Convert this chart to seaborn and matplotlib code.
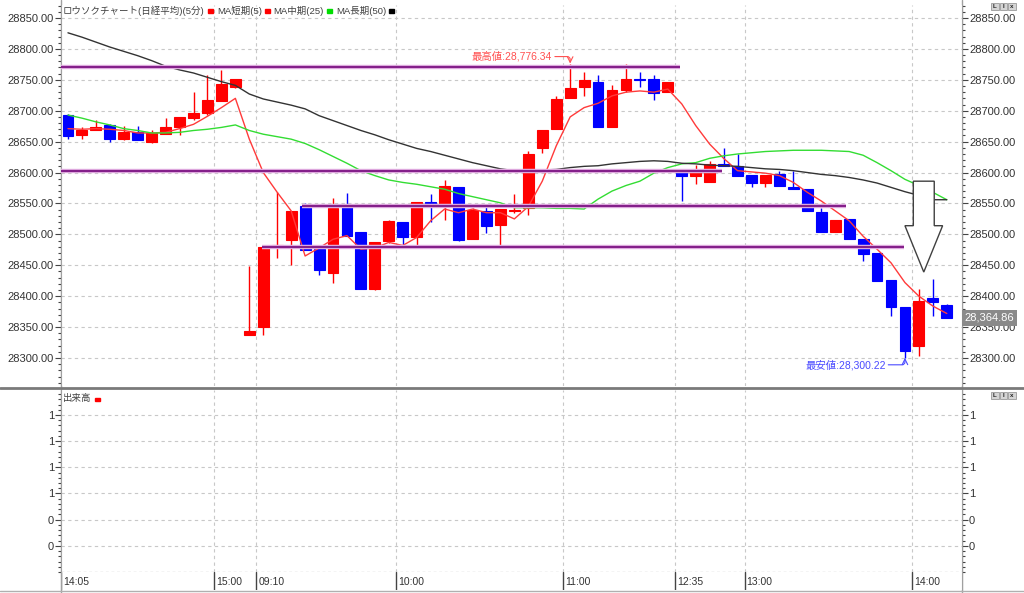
import numpy as np
import pandas as pd
import matplotlib
matplotlib.use("Agg")
import matplotlib.pyplot as plt
import matplotlib.ticker as mticker
from matplotlib.patches import Polygon, Rectangle
from matplotlib.lines import Line2D
import seaborn as sns

# ==========================
# DATA (5 min candles)
# ==========================

opens = [28693, 28660, 28669, 28677, 28654, 28666, 28649, 28663, 28674, 28689,
         28697, 28716, 28738, 28338, 28350, 28481, 28491, 28546, 28476, 28438,
         28546, 28503, 28411, 28489, 28520, 28496, 28553, 28548, 28577, 28492,
         28538, 28515, 28538, 28543, 28639, 28670, 28721, 28738, 28747, 28673,
         28734, 28751, 28752, 28731, 28603, 28594, 28585, 28614, 28611, 28596,
         28583, 28598, 28577, 28574, 28536, 28504, 28525, 28492, 28470, 28426,
         28383, 28319, 28397, 28385]
highs = [28695, 28673, 28685, 28678, 28676, 28675, 28668, 28689, 28690, 28730,
         28757, 28766, 28751, 28449, 28481, 28568, 28538, 28550, 28476, 28559,
         28567, 28503, 28487, 28524, 28520, 28553, 28565, 28588, 28577, 28543,
         28546, 28541, 28565, 28635, 28669, 28724, 28776.34, 28763, 28757, 28742,
         28775, 28763, 28757, 28747, 28603, 28612, 28619, 28640, 28630, 28596,
         28596, 28603, 28602, 28574, 28543, 28524, 28525, 28492, 28470, 28426,
         28383, 28411, 28427, 28387]
lows = [28654, 28655, 28668, 28649, 28653, 28652, 28648, 28662, 28661, 28685,
        28693, 28715, 28737, 28337, 28338, 28461, 28451, 28475, 28434, 28422,
        28498, 28412, 28410, 28486, 28482, 28482, 28520, 28523, 28489, 28492,
        28502, 28481, 28534, 28532, 28632, 28670, 28721, 28724, 28673, 28673,
        28730, 28739, 28718, 28731, 28554, 28581, 28585, 28610, 28595, 28576,
        28577, 28578, 28574, 28538, 28504, 28504, 28493, 28457, 28424, 28368,
        28300.22, 28303, 28368, 28365]
closes = [28659, 28668, 28674, 28654, 28665, 28653, 28664, 28674, 28690, 28697,
          28717, 28743, 28751, 28344, 28480, 28483, 28538, 28475, 28443, 28543,
          28498, 28412, 28487, 28521, 28496, 28553, 28548, 28578, 28491, 28539,
          28514, 28541, 28540, 28630, 28669, 28719, 28736, 28749, 28673, 28734,
          28752, 28750, 28729, 28747, 28595, 28603, 28614, 28610, 28595, 28583,
          28596, 28578, 28574, 28538, 28504, 28524, 28493, 28469, 28424, 28382,
          28312, 28393, 28391, 28364.86]

ma_short = [28671, 28670, 28671, 28670, 28668, 28664, 28664, 28665, 28671, 28678,
            28691, 28705, 28720, 28654, 28600, 28568, 28538, 28465, 28478, 28492,
            28498, 28476, 28478, 28487, 28482, 28495, 28522, 28541, 28535, 28541,
            28535, 28535, 28525, 28545, 28586, 28643, 28690, 28705, 28712, 28724,
            28730, 28732, 28730, 28735, 28711, 28676, 28646, 28623, 28603, 28601,
            28599, 28595, 28584, 28568, 28554, 28538, 28522, 28497, 28476, 28454,
            28422, 28400, 28384, 28372]
ma_mid = [28693, 28688, 28682, 28677, 28671, 28668, 28664, 28664, 28665, 28668,
          28670, 28673, 28677, 28668, 28662, 28658, 28654, 28647, 28637, 28626,
          28615, 28603, 28595, 28588, 28584, 28581, 28577, 28573, 28566, 28561,
          28556, 28551, 28543, 28543, 28543, 28542, 28542, 28541, 28557, 28570,
          28579, 28586, 28599, 28608, 28614, 28616, 28623, 28627, 28630, 28632,
          28634, 28635, 28636, 28636, 28636, 28635, 28634, 28628, 28616, 28603,
          28589, 28579, 28568, 28556]
ma_long = [28826, 28819, 28811, 28803, 28796, 28789, 28781, 28772, 28766, 28761,
           28754, 28747, 28741, 28727, 28719, 28714, 28709, 28703, 28692, 28684,
           28676, 28668, 28661, 28653, 28646, 28639, 28634, 28628, 28622, 28616,
           28611, 28606, 28603, 28603, 28604, 28605, 28608, 28610, 28611, 28614,
           28616, 28618, 28619, 28618, 28615, 28614, 28612, 28611, 28610, 28608,
           28606, 28605, 28603, 28600, 28597, 28595, 28592, 28588, 28583, 28576,
           28569, 28563, 28556, 28556]

time_labels = ["14:05", "15:00", "09:10", "10:00", "11:00", "12:35", "13:00", "14:00"]
time_label_idx = [0, 11, 14, 24, 36, 44, 49, 61]

# drawn horizontal lines: level, from candle, to candle
hline_levels = [28770, 28602, 28546, 28480]
hline_from = [-0.5, -0.5, 16.8, 13.9]
hline_to = [43.9, 46.9, 55.8, 59.9]

vol_ticks = [0.2, 0.4, 0.6, 0.8, 1.0, 1.2]
last_price = closes[-1]

UP = "#ff0000"
DOWN = "#0000ff"
GRID = "#c8c8c8"
TXT = "#333333"

# ==========================
# FIGURE / AXES
# ==========================

sns.set_style("white")
plt.rcParams['font.family'] = ['Liberation Sans', 'Noto Sans CJK JP', 'DejaVu Sans']

W, H = 1024, 593
fig = plt.figure(figsize=(W / 100, H / 100), dpi=100)


def box(x0, y0, x1, y1):
    return [x0 / W, 1 - y1 / H, (x1 - x0) / W, (y1 - y0) / H]


def fpx(x, y):
    return (x / W, 1 - y / H)


ax = fig.add_axes(box(61, 5, 962, 386))
axv = fig.add_axes(box(61, 390, 962, 572), sharex=ax)
axt = fig.add_axes(box(61, 572, 962, 590), sharex=ax)

n = len(closes)
ax.set_xlim(-0.5, 64.09)

# ==========================
# CANDLES
# ==========================

df = pd.DataFrame({"idx": np.arange(n), "open": opens, "high": highs,
                   "low": lows, "close": closes})
df["color"] = np.where(df["close"] >= df["open"], UP, DOWN)
df["bottom"] = df[["open", "close"]].min(axis=1)
df["body"] = (df["close"] - df["open"]).abs()

ax.vlines(df["idx"], df["low"], df["high"], colors=df["color"], lw=1, zorder=2)
ax.bar(df["idx"], df["body"], bottom=df["bottom"], width=0.78,
       color=df["color"], edgecolor=df["color"], linewidth=0.8, zorder=3)

# ==========================
# MOVING AVERAGES
# ==========================

ma = pd.DataFrame({"idx": np.arange(n), "MA短期(5)": ma_short,
                   "MA中期(25)": ma_mid, "MA長期(50)": ma_long})
ma = ma.melt("idx", var_name="series", value_name="price")
sns.lineplot(data=ma, x="idx", y="price", hue="series",
             palette={"MA短期(5)": "#ff3a3a", "MA中期(25)": "#33dd33", "MA長期(50)": "#333333"},
             linewidth=1, legend=False, estimator=None, sort=False, ax=ax, zorder=5)

# drawn horizontal lines
for lv, a, b in zip(hline_levels, hline_from, hline_to):
    ax.plot([a, b], [lv, lv], color="#e8b8e8", lw=3.2, zorder=5, solid_capstyle="butt")
    ax.plot([a, b], [lv, lv], color="#84208a", lw=1.6, zorder=6, solid_capstyle="butt")

# ==========================
# MAIN AXIS STYLE
# ==========================

ax.set_ylim(28254.7, 28871.0)
ax.yaxis.set_major_locator(mticker.MultipleLocator(50))
ax.yaxis.set_minor_locator(mticker.MultipleLocator(10))
ax.yaxis.set_major_formatter(mticker.FormatStrFormatter("%.2f"))
ax.yaxis.set_ticks_position("both")
ax.tick_params(axis="y", which="both", labelleft=True, labelright=True,
               direction="out", color="#444444", labelsize=8, labelcolor=TXT, pad=1)
ax.tick_params(axis="y", which="major", length=4, width=0.8)
ax.tick_params(axis="y", which="minor", length=2, width=0.8)
ax.tick_params(axis="x", which="both", bottom=False, labelbottom=False)
ax.set_xlabel("")
ax.set_ylabel("")
ax.grid(False)
for y in np.arange(28300, 28851, 50):
    ax.axhline(y, color=GRID, lw=0.8, ls=(0, (3, 3)), zorder=0)
for i in time_label_idx:
    ax.axvline(i - 0.5, color=GRID, lw=0.8, ls=(0, (3, 3)), zorder=0)
for s in ["top", "bottom"]:
    ax.spines[s].set_visible(False)
for s in ["left", "right"]:
    ax.spines[s].set_color("#a0a0a0")

# high / low annotations
ax.annotate("", xy=(36, highs[36]), xytext=(-11, 5), textcoords="offset points",
            arrowprops=dict(arrowstyle="->", color="#ff5050", lw=0.8,
                            connectionstyle="angle,angleA=0,angleB=90,rad=3",
                            shrinkA=0, shrinkB=0), zorder=7)
ax.annotate("最高値:28,776.34", xy=(36, highs[36]), xytext=(-13, 5),
            textcoords="offset points", ha="right", va="center",
            fontsize=7.5, color="#ff5050", zorder=7)
ax.annotate("", xy=(60, lows[60]), xytext=(-12, -5), textcoords="offset points",
            arrowprops=dict(arrowstyle="->", color="#4a4aff", lw=0.8,
                            connectionstyle="angle,angleA=0,angleB=90,rad=3",
                            shrinkA=0, shrinkB=0), zorder=7)
ax.annotate("最安値:28,300.22", xy=(60, lows[60]), xytext=(-14, -5),
            textcoords="offset points", ha="right", va="center",
            fontsize=7.5, color="#4a4aff", zorder=7)

# big down arrow
sx0, sx1, hx0, hx1, tipx = 60.6, 62.1, 60.0, 62.7, 61.35
top_y, neck_y, tip_y = 28586, 28514, 28439
ax.add_patch(Polygon([(sx0, top_y), (sx1, top_y), (sx1, neck_y), (hx1, neck_y),
                      (tipx, tip_y), (hx0, neck_y), (sx0, neck_y)],
                     closed=True, facecolor="white", edgecolor="#404040", lw=1, zorder=8))

# last price box on the right axis
ax.text(1.003, last_price, f"{last_price:,.2f}", transform=ax.get_yaxis_transform(),
        ha="left", va="center", fontsize=8, color="white", clip_on=False, zorder=10,
        bbox=dict(boxstyle="square,pad=0.25", fc="#8a8a8a", ec="none"))

# ==========================
# VOLUME PANEL (empty)
# ==========================

axv.set_ylim(0, 1.391)
axv.set_yticks(vol_ticks)
axv.yaxis.set_minor_locator(mticker.MultipleLocator(0.04))
axv.yaxis.set_major_formatter(mticker.FuncFormatter(lambda v, p: f"{v:.0f}"))
axv.yaxis.set_ticks_position("both")
axv.tick_params(axis="y", which="both", labelleft=True, labelright=True,
                direction="out", color="#444444", labelsize=8, labelcolor=TXT, pad=1)
axv.tick_params(axis="y", which="major", length=4, width=0.8)
axv.tick_params(axis="y", which="minor", length=2, width=0.8)
axv.tick_params(axis="x", which="both", bottom=False, labelbottom=False)
for y in vol_ticks:
    axv.axhline(y, color=GRID, lw=0.8, ls=(0, (3, 3)), zorder=0)
for i in time_label_idx:
    axv.axvline(i - 0.5, color=GRID, lw=0.8, ls=(0, (3, 3)), zorder=0)
axv.axhline(0, color=GRID, lw=1, ls=(0, (2, 2)), zorder=0)
for s in ["top", "bottom"]:
    axv.spines[s].set_visible(False)
for s in ["left", "right"]:
    axv.spines[s].set_color("#a0a0a0")

# ==========================
# TIME STRIP
# ==========================

axt.set_ylim(0, 1)
axt.set_xticks([])
axt.set_yticks([])
for s in ["top", "bottom"]:
    axt.spines[s].set_visible(False)
for s in ["left", "right"]:
    axt.spines[s].set_color("#a0a0a0")
for i, lab in zip(time_label_idx, time_labels):
    axt.axvline(i - 0.5, color="#444444", lw=1)
    axt.text(i - 0.35, 0.45, lab, ha="left", va="center", fontsize=7.5, color=TXT)

# ==========================
# FRAME DECORATION
# ==========================

fig.add_artist(Line2D([0, 1], [1 - 388 / H] * 2, color="#7a7a7a", lw=2))
fig.add_artist(Line2D([0, 1], [1 - 591 / H] * 2, color="#b0b0b0", lw=1))
fig.add_artist(Line2D([61 / W] * 2, [0, 1], color="#a0a0a0", lw=1, zorder=0))
fig.add_artist(Line2D([962 / W] * 2, [0, 1], color="#a0a0a0", lw=1, zorder=0))

renderer = fig.canvas.get_renderer()


def legend_row(x0, yc, items):
    x = x0
    for label, col in items:
        t = fig.text(*fpx(x, yc), label, fontsize=6.8, color="#404040",
                     ha="left", va="center")
        bb = t.get_window_extent(renderer)
        x = bb.x1 + 3
        fig.add_artist(Rectangle(fpx(x, yc + 1.5), 5 / W, 3 / H,
                                 transform=fig.transFigure, color=col))
        x += 9


legend_row(63, 11, [("ロウソクチャート(日経平均)(5分)", UP), ("MA短期(5)", UP),
                    ("MA中期(25)", "#00dd00"), ("MA長期(50)", "black")])
legend_row(63, 399, [("出来高", UP)])


def buttons(y):
    for k, ch in enumerate(["L", "I", "x"]):
        x = 991 + k * 8.5
        fig.add_artist(Rectangle(fpx(x, y + 7), 7.5 / W, 7 / H, transform=fig.transFigure,
                                 fc="#d4d4d4", ec="#8a8a8a", lw=0.5))
        fig.text(*fpx(x + 3.75, y + 3.5), ch, fontsize=4.5, ha="center", va="center",
                 color="#222222", fontweight="bold")


buttons(3)
buttons(392)

plt.savefig("out.png", dpi=100)
plt.close()
